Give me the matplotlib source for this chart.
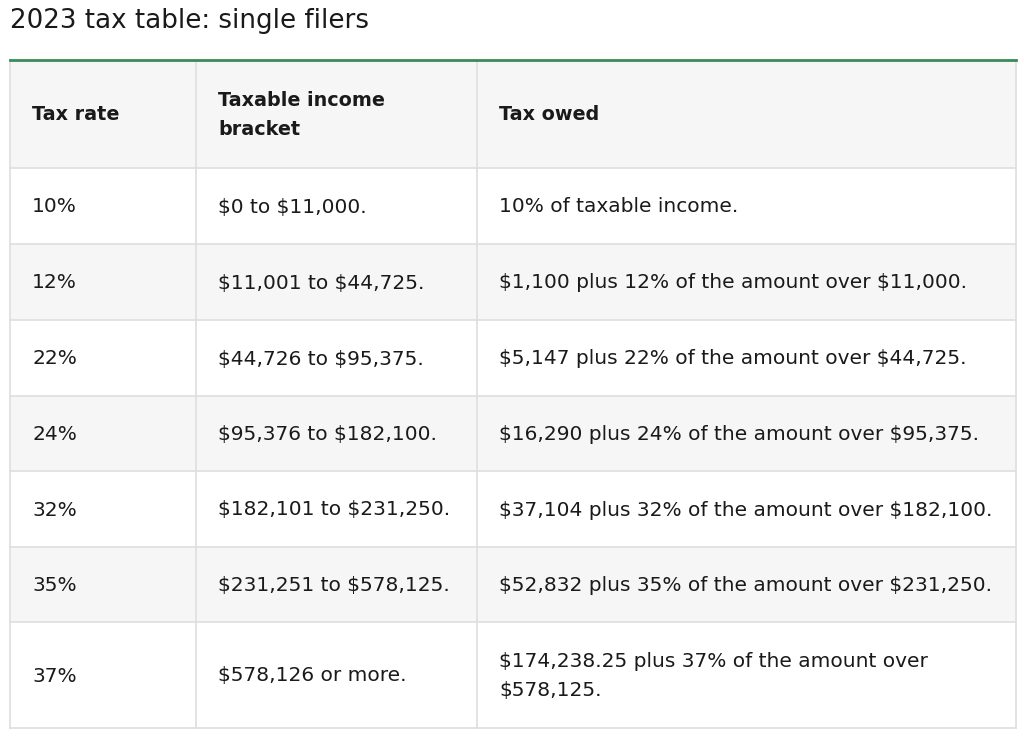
import matplotlib
matplotlib.use("Agg")
import matplotlib.pyplot as plt
from matplotlib.patches import Rectangle

# Datos de la tabla
titulo = "2023 tax table: single filers"
encabezados = ["Tax rate", "Taxable income\nbracket", "Tax owed"]
tasas = ["10%", "12%", "22%", "24%", "32%", "35%", "37%"]
tramos = [
    "$0 to $11,000.",
    "$11,001 to $44,725.",
    "$44,726 to $95,375.",
    "$95,376 to $182,100.",
    "$182,101 to $231,250.",
    "$231,251 to $578,125.",
    "$578,126 or more.",
]
impuesto = [
    "10% of taxable income.",
    "$1,100 plus 12% of the amount over $11,000.",
    "$5,147 plus 22% of the amount over $44,725.",
    "$16,290 plus 24% of the amount over $95,375.",
    "$37,104 plus 32% of the amount over $182,100.",
    "$52,832 plus 35% of the amount over $231,250.",
    "$174,238.25 plus 37% of the amount over\n$578,125.",
]

# Geometria (pixeles)
W, H = 1024, 738
x_izq, x_der = 10, 1016
col_x = [10, 196, 477, 1016]
text_pad = 22
fila_y = [60, 168, 244, 320, 396, 471, 547, 622, 728]

FUENTE = "DejaVu Sans"
GRIS = "#f6f6f6"
LINEA = "#dedede"
VERDE = "#3b8a5a"
TEXTO = "#1a1a1a"

fig = plt.figure(figsize=(W / 100, H / 100), dpi=100)
ax = fig.add_axes([0, 0, 1, 1])
ax.set_xlim(0, W)
ax.set_ylim(H, 0)
ax.axis("off")

filas = [encabezados] + [list(t) for t in zip(tasas, tramos, impuesto)]

for i, fila in enumerate(filas):
    y0, y1 = fila_y[i], fila_y[i + 1]
    fondo = GRIS if i % 2 == 0 else "white"
    ax.add_patch(Rectangle((x_izq, y0), x_der - x_izq, y1 - y0,
                           facecolor=fondo, edgecolor="none", zorder=0))
    ax.plot([x_izq, x_der], [y1, y1], color=LINEA, lw=1.2, zorder=1)
    for j, txt in enumerate(fila):
        ax.text(col_x[j] + text_pad, (y0 + y1) / 2 + 1, txt,
                ha="left", va="center",
                fontsize=13.8 if i == 0 else 14.5, family=FUENTE,
                fontweight="bold" if i == 0 else "normal",
                color=TEXTO, linespacing=1.65, parse_math=False)

# Lineas verticales y bordes
for x in col_x:
    ax.plot([x, x], [fila_y[0], fila_y[-1]], color=LINEA, lw=1.2, zorder=1)
ax.plot([x_izq, x_der], [fila_y[0], fila_y[0]], color=VERDE, lw=2, zorder=2)

ax.text(10, 21, titulo, ha="left", va="center", fontsize=18.8,
        family=FUENTE, color=TEXTO, parse_math=False)

fig.savefig("out.png", dpi=100)
